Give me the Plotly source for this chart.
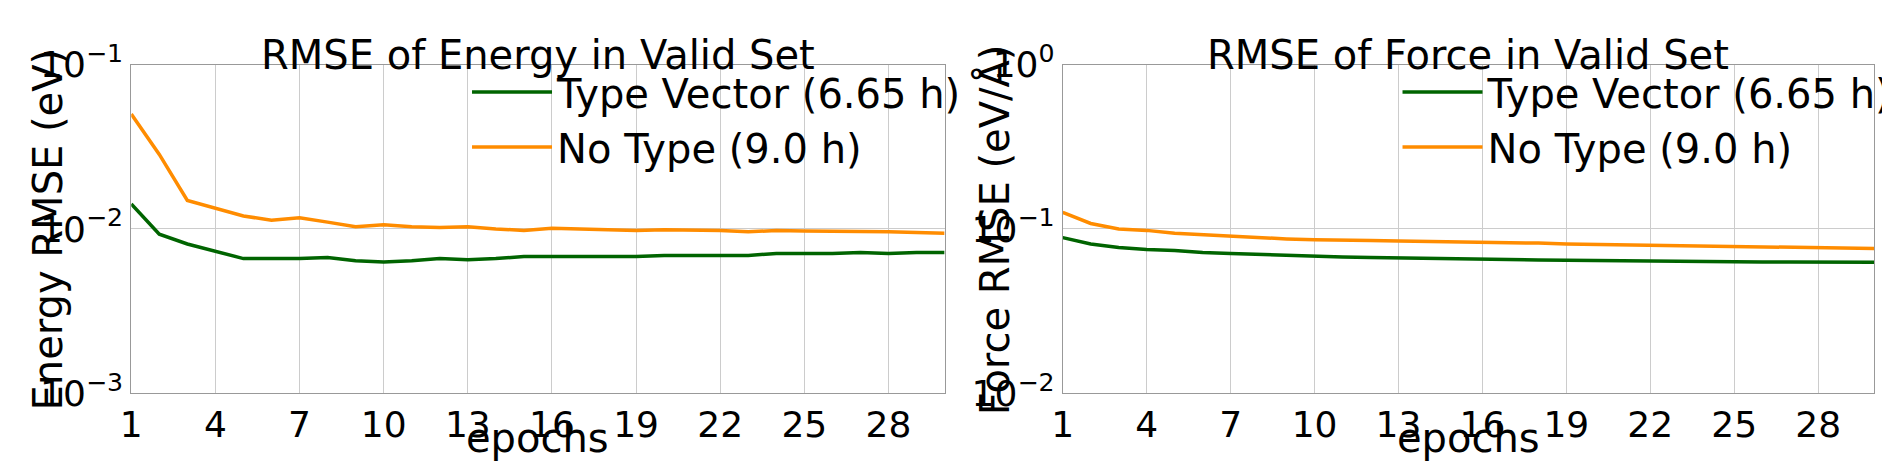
import plotly.graph_objects as go
from plotly.subplots import make_subplots

epochs = list(range(1, 31))

energy_type_vector = [0.0142, 0.0093, 0.0081, 0.0073, 0.0066, 0.0066, 0.0066, 0.0067, 0.0064, 0.0063,
                      0.0064, 0.0066, 0.0065, 0.0066, 0.0068, 0.0068, 0.0068, 0.0068, 0.0068, 0.0069,
                      0.0069, 0.0069, 0.0069, 0.0071, 0.0071, 0.0071, 0.0072, 0.0071, 0.0072, 0.0072]
energy_no_type = [0.050, 0.0284, 0.0149, 0.0134, 0.0120, 0.0113, 0.0117, 0.0110, 0.0103, 0.0106,
                  0.0103, 0.0102, 0.0103, 0.0100, 0.0098, 0.0101, 0.0100, 0.0099, 0.0098, 0.0099,
                  0.0099, 0.0098, 0.0096, 0.0098, 0.0097, 0.0097, 0.0097, 0.0096, 0.0095, 0.0094]

force_type_vector = [0.0885, 0.081, 0.077, 0.075, 0.074, 0.072, 0.071, 0.070, 0.069, 0.068,
                     0.0675, 0.067, 0.0665, 0.066, 0.066, 0.0655, 0.065, 0.0648, 0.0645, 0.0642,
                     0.064, 0.0635, 0.0633, 0.0633, 0.063, 0.063, 0.063, 0.0628, 0.0627, 0.0627]
force_no_type = [0.126, 0.108, 0.100, 0.098, 0.094, 0.092, 0.090, 0.088, 0.087, 0.086,
                 0.086, 0.085, 0.0845, 0.084, 0.0835, 0.0835, 0.082, 0.082, 0.081, 0.0805,
                 0.080, 0.0795, 0.079, 0.0785, 0.078, 0.0775, 0.077, 0.0765, 0.0763, 0.076]

green = "#006400"
orange = "#ff8c00"
font = "DejaVu Sans"
big = 40

fig = make_subplots(rows=1, cols=2)

for col, (tv, nt, leg) in enumerate([(energy_type_vector, energy_no_type, "legend"),
                                      (force_type_vector, force_no_type, "legend2")], start=1):
    fig.add_trace(go.Scatter(x=epochs, y=tv, mode="lines", name="Type Vector (6.65 h)",
                             line=dict(color=green, width=3.5), legend=leg), row=1, col=col)
    fig.add_trace(go.Scatter(x=epochs, y=nt, mode="lines", name="No Type (9.0 h)",
                             line=dict(color=orange, width=3.5), legend=leg), row=1, col=col)

axis_common = dict(showline=True, linecolor="#999", mirror=True, showgrid=True,
                   gridcolor="#ccc", ticks="", tickfont=dict(size=36, color="black"),
                   zeroline=False)

fig.update_xaxes(range=[1, 30], tickvals=list(range(1, 30, 3)), **axis_common)

def label(text, x, y, xanchor, yanchor, angle=0):
    return dict(text=text, x=x, y=y, xref="paper", yref="paper", xanchor=xanchor,
                yanchor=yanchor, showarrow=False, textangle=angle,
                font=dict(size=big, color="black"))

legend_common = dict(y=0.94, yanchor="top", font=dict(size=big, color="black"),
                     bgcolor="rgba(0,0,0,0)", itemwidth=80, tracegroupgap=0)

fig.update_layout(
    xaxis=dict(domain=[114 / 1890, 940 / 1890]),
    xaxis2=dict(domain=[1060 / 1890, 1884 / 1890]),
    yaxis=dict(type="log", range=[-3, -1], tickvals=[1e-3, 1e-2, 1e-1],
               ticktext=["10<sup>−3</sup>", "10<sup>−2</sup>", "10<sup>−1</sup>"],
               domain=[73 / 472, 438 / 472], **axis_common),
    yaxis2=dict(type="log", range=[-2, 0], tickvals=[1e-2, 1e-1, 1],
                ticktext=["10<sup>−2</sup>", "10<sup>−1</sup>", "10<sup>0</sup>"],
                domain=[73 / 472, 438 / 472], **axis_common),
    legend=dict(x=455 / 1890, xanchor="left", **legend_common),
    legend2=dict(x=1400 / 1890, xanchor="left", **legend_common),
    annotations=[
        label("RMSE of Energy in Valid Set", 527 / 1890, 1.01, "center", "top"),
        label("RMSE of Force in Valid Set", 1472 / 1890, 1.01, "center", "top"),
        label("epochs", 527 / 1890, -0.01, "center", "bottom"),
        label("epochs", 1472 / 1890, -0.01, "center", "bottom"),
        label("Energy RMSE (eV)", 5 / 1890, 0.54, "left", "middle", -90),
        label("Force RMSE (eV/Å)", 965 / 1890, 0.54, "left", "middle", -90),
    ],
    font=dict(family=font, color="black"),
    plot_bgcolor="white",
    paper_bgcolor="white",
    margin=dict(l=0, r=0, t=0, b=0),
    width=1890,
    height=472,
)

fig.write_html("out.html")
